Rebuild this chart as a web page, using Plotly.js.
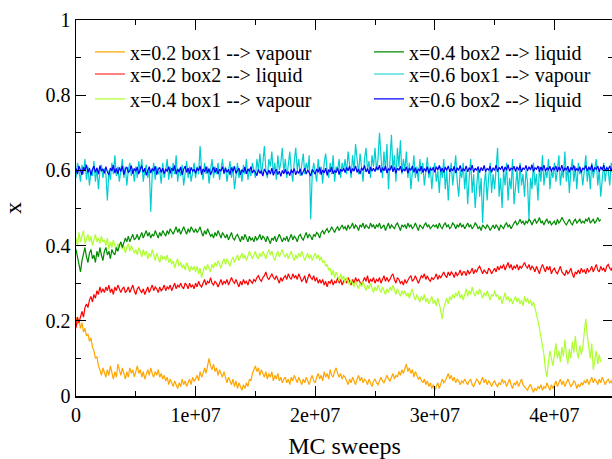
<!DOCTYPE html>
<html>
<head>
<meta charset="utf-8">
<script src="https://cdn.plot.ly/plotly-3.0.1.min.js"></script>
<style>
html, body { margin: 0; padding: 0; overflow: hidden; background: #fff; }
#chart { width: 614px; height: 459px; }
</style>
</head>
<body>
<div id="chart"></div>
<script>
// MC sweeps between stored samples
const sweepStep = 1.25e5;

const seriesNames = [
  "x=0.2 box1 --> vapour",
  "x=0.2 box2 --> liquid",
  "x=0.4 box1 --> vapour",
  "x=0.4 box2 --> liquid",
  "x=0.6 box1 --> vapour",
  "x=0.6 box2 --> liquid"
];

const x02box1 = [
  0.21,0.19,0.2,0.18,0.195,0.17,0.18,0.16,0.165,0.145,0.155,0.13,0.12,0.10,0.105,0.08,0.07,0.055,0.075,0.06,
  0.05,0.07,0.055,0.08,0.06,0.045,0.065,0.05,0.085,0.07,0.055,0.075,0.06,0.045,0.065,0.05,0.075,0.06,0.07,0.05,
  0.065,0.08,0.06,0.07,0.05,0.065,0.045,0.06,0.07,0.055,0.075,0.06,0.05,0.065,0.055,0.07,0.05,0.06,0.045,0.055,
  0.04,0.05,0.03,0.045,0.035,0.025,0.04,0.03,0.02,0.035,0.025,0.045,0.03,0.04,0.025,0.035,0.045,0.03,0.05,0.04,
  0.045,0.055,0.04,0.065,0.05,0.06,0.075,0.06,0.085,0.1,0.08,0.07,0.085,0.065,0.075,0.055,0.07,0.06,0.05,0.065,
  0.045,0.035,0.05,0.04,0.03,0.045,0.025,0.04,0.02,0.035,0.025,0.015,0.03,0.02,0.035,0.025,0.045,0.04,0.06,0.07,
  0.08,0.065,0.075,0.055,0.07,0.06,0.05,0.065,0.045,0.06,0.05,0.065,0.04,0.055,0.045,0.06,0.04,0.05,0.035,0.045,
  0.05,0.035,0.045,0.03,0.05,0.04,0.055,0.045,0.035,0.05,0.04,0.03,0.045,0.035,0.05,0.04,0.03,0.045,0.055,0.04,
  0.035,0.05,0.06,0.045,0.055,0.04,0.065,0.05,0.06,0.045,0.07,0.055,0.05,0.065,0.075,0.06,0.05,0.06,0.045,0.055,
  0.05,0.04,0.03,0.045,0.035,0.05,0.04,0.03,0.045,0.055,0.04,0.05,0.035,0.045,0.04,0.03,0.045,0.035,0.025,0.04,
  0.045,0.035,0.03,0.04,0.05,0.04,0.035,0.045,0.055,0.045,0.04,0.05,0.06,0.045,0.055,0.05,0.065,0.055,0.07,0.06,
  0.075,0.085,0.065,0.075,0.06,0.07,0.05,0.065,0.055,0.045,0.05,0.04,0.035,0.045,0.03,0.04,0.025,0.035,0.02,0.03,
  0.015,0.025,0.035,0.02,0.03,0.045,0.035,0.04,0.05,0.06,0.045,0.055,0.04,0.05,0.035,0.045,0.04,0.03,0.04,0.035,
  0.045,0.035,0.03,0.04,0.045,0.03,0.025,0.035,0.045,0.04,0.03,0.04,0.05,0.035,0.045,0.03,0.04,0.035,0.025,0.035,
  0.04,0.03,0.025,0.035,0.03,0.045,0.035,0.04,0.025,0.035,0.045,0.03,0.02,0.035,0.03,0.04,0.025,0.035,0.045,0.03,
  0.025,0.02,0.015,0.025,0.03,0.02,0.01,0.02,0.015,0.025,0.02,0.03,0.015,0.025,0.02,0.035,0.025,0.015,0.03,0.02,
  0.03,0.04,0.025,0.035,0.045,0.03,0.04,0.025,0.035,0.045,0.035,0.025,0.03,0.04,0.035,0.02,0.03,0.025,0.035,0.03,
  0.04,0.035,0.045,0.03,0.04,0.05,0.035,0.045,0.04,0.03,0.045,0.035,0.05,0.04,0.03,0.04,0.045,0.035,0.04,0.03
];

const x02box2 = [
  0.18,0.21,0.195,0.215,0.225,0.21,0.235,0.245,0.235,0.255,0.265,0.25,0.27,0.26,0.28,0.27,0.29,0.275,0.285,0.275,
  0.29,0.28,0.295,0.275,0.285,0.27,0.29,0.28,0.295,0.285,0.275,0.285,0.29,0.275,0.28,0.29,0.275,0.285,0.295,0.28,
  0.27,0.285,0.29,0.28,0.275,0.285,0.27,0.28,0.29,0.275,0.285,0.295,0.28,0.29,0.285,0.275,0.29,0.28,0.285,0.295,
  0.28,0.29,0.285,0.295,0.28,0.29,0.3,0.285,0.295,0.29,0.3,0.29,0.285,0.3,0.295,0.285,0.3,0.29,0.295,0.285,
  0.3,0.29,0.305,0.295,0.29,0.3,0.31,0.295,0.305,0.3,0.315,0.3,0.295,0.305,0.3,0.29,0.3,0.31,0.295,0.305,
  0.3,0.31,0.295,0.305,0.315,0.305,0.3,0.31,0.3,0.29,0.305,0.295,0.31,0.3,0.305,0.295,0.31,0.305,0.3,0.31,
  0.305,0.315,0.32,0.31,0.305,0.315,0.32,0.33,0.315,0.31,0.32,0.325,0.315,0.31,0.32,0.31,0.3,0.315,0.305,0.315,
  0.32,0.31,0.325,0.315,0.31,0.325,0.315,0.32,0.31,0.325,0.315,0.305,0.31,0.32,0.3,0.31,0.325,0.315,0.31,0.32,
  0.305,0.315,0.3,0.31,0.3,0.31,0.295,0.305,0.29,0.305,0.3,0.31,0.295,0.305,0.3,0.315,0.3,0.31,0.295,0.305,
  0.31,0.3,0.315,0.305,0.295,0.31,0.3,0.315,0.305,0.31,0.3,0.295,0.305,0.315,0.305,0.32,0.3,0.31,0.305,0.315,
  0.3,0.31,0.305,0.315,0.3,0.31,0.32,0.305,0.315,0.305,0.31,0.32,0.325,0.31,0.3,0.315,0.31,0.3,0.305,0.295,
  0.31,0.3,0.31,0.315,0.32,0.305,0.31,0.32,0.31,0.3,0.31,0.32,0.315,0.325,0.31,0.32,0.31,0.305,0.315,0.31,
  0.315,0.325,0.31,0.32,0.315,0.325,0.33,0.32,0.315,0.33,0.32,0.33,0.325,0.315,0.33,0.32,0.325,0.335,0.32,0.33,
  0.33,0.32,0.335,0.325,0.33,0.34,0.325,0.335,0.33,0.34,0.345,0.335,0.325,0.335,0.33,0.325,0.34,0.335,0.325,0.335,
  0.34,0.33,0.345,0.335,0.345,0.34,0.35,0.335,0.345,0.355,0.34,0.35,0.335,0.345,0.34,0.35,0.335,0.345,0.34,0.35,
  0.355,0.345,0.34,0.35,0.335,0.345,0.34,0.33,0.345,0.335,0.325,0.34,0.35,0.34,0.33,0.345,0.335,0.345,0.325,0.335,
  0.34,0.33,0.325,0.335,0.345,0.33,0.325,0.32,0.335,0.325,0.33,0.34,0.325,0.315,0.33,0.325,0.335,0.325,0.34,0.33,
  0.335,0.325,0.34,0.33,0.335,0.345,0.33,0.34,0.35,0.335,0.33,0.345,0.335,0.34,0.33,0.345,0.35,0.34,0.335,0.345
];

const x04box1 = [
  0.42,0.4,0.435,0.41,0.425,0.44,0.405,0.42,0.43,0.41,0.425,0.4,0.415,0.43,0.41,0.42,0.405,0.425,0.41,0.415,
  0.4,0.42,0.39,0.41,0.395,0.415,0.4,0.385,0.405,0.395,0.41,0.39,0.4,0.38,0.395,0.405,0.385,0.4,0.39,0.38,
  0.39,0.375,0.395,0.38,0.37,0.39,0.375,0.385,0.365,0.38,0.37,0.39,0.375,0.36,0.38,0.37,0.355,0.375,0.365,0.37,
  0.36,0.375,0.355,0.365,0.35,0.36,0.34,0.355,0.365,0.345,0.355,0.34,0.35,0.335,0.355,0.345,0.33,0.345,0.335,0.345,
  0.33,0.345,0.325,0.34,0.315,0.33,0.345,0.335,0.35,0.34,0.33,0.35,0.34,0.355,0.345,0.36,0.35,0.34,0.355,0.365,
  0.35,0.365,0.355,0.345,0.36,0.37,0.355,0.365,0.375,0.36,0.37,0.38,0.365,0.375,0.36,0.37,0.385,0.375,0.365,0.375,
  0.385,0.37,0.365,0.38,0.37,0.385,0.375,0.365,0.38,0.39,0.375,0.385,0.37,0.36,0.375,0.385,0.37,0.38,0.39,0.375,
  0.37,0.38,0.365,0.375,0.385,0.37,0.36,0.375,0.365,0.38,0.37,0.385,0.375,0.36,0.37,0.38,0.365,0.375,0.36,0.37,
  0.38,0.365,0.375,0.36,0.37,0.355,0.36,0.345,0.35,0.335,0.34,0.32,0.335,0.315,0.33,0.32,0.305,0.325,0.31,0.32,
  0.3,0.315,0.305,0.295,0.31,0.3,0.29,0.305,0.295,0.285,0.3,0.29,0.305,0.29,0.28,0.295,0.285,0.3,0.285,0.275,
  0.29,0.28,0.295,0.285,0.275,0.29,0.28,0.27,0.285,0.275,0.29,0.28,0.295,0.28,0.27,0.285,0.275,0.265,0.28,0.27,
  0.28,0.265,0.275,0.26,0.275,0.285,0.265,0.255,0.27,0.26,0.25,0.265,0.255,0.27,0.25,0.26,0.245,0.255,0.265,0.245,
  0.255,0.24,0.26,0.245,0.225,0.205,0.235,0.25,0.26,0.245,0.265,0.255,0.27,0.26,0.275,0.265,0.28,0.26,0.27,0.255,
  0.275,0.285,0.265,0.28,0.27,0.29,0.275,0.265,0.28,0.27,0.285,0.275,0.26,0.275,0.265,0.28,0.27,0.255,0.27,0.265,
  0.28,0.265,0.27,0.255,0.265,0.245,0.26,0.275,0.255,0.265,0.25,0.26,0.245,0.255,0.265,0.25,0.26,0.245,0.255,0.24,
  0.265,0.25,0.26,0.245,0.255,0.24,0.25,0.235,0.22,0.2,0.18,0.16,0.14,0.11,0.07,0.05,0.09,0.12,0.1,0.08,
  0.11,0.14,0.1,0.12,0.09,0.13,0.105,0.15,0.11,0.085,0.125,0.1,0.145,0.115,0.16,0.12,0.1,0.135,0.11,0.13,
  0.17,0.205,0.16,0.13,0.1,0.14,0.07,0.095,0.12,0.085,0.11,0.09
];

const x04box2 = [
  0.39,0.37,0.35,0.33,0.36,0.38,0.395,0.37,0.355,0.38,0.39,0.365,0.375,0.355,0.385,0.37,0.395,0.375,0.36,0.385,
  0.395,0.375,0.385,0.365,0.39,0.38,0.375,0.395,0.385,0.4,0.41,0.395,0.405,0.42,0.41,0.425,0.41,0.42,0.43,0.415,
  0.42,0.43,0.415,0.425,0.435,0.42,0.43,0.44,0.425,0.435,0.42,0.43,0.425,0.44,0.43,0.42,0.435,0.425,0.44,0.43,
  0.425,0.44,0.43,0.445,0.435,0.43,0.44,0.45,0.435,0.445,0.43,0.44,0.45,0.44,0.43,0.445,0.435,0.45,0.44,0.435,
  0.445,0.435,0.44,0.45,0.435,0.425,0.44,0.43,0.445,0.435,0.425,0.43,0.42,0.435,0.425,0.44,0.43,0.42,0.435,0.425,
  0.42,0.43,0.415,0.425,0.435,0.42,0.415,0.425,0.43,0.42,0.41,0.425,0.415,0.43,0.42,0.41,0.425,0.415,0.42,0.41,
  0.425,0.415,0.42,0.43,0.415,0.425,0.42,0.41,0.425,0.415,0.405,0.42,0.415,0.425,0.41,0.42,0.43,0.42,0.41,0.42,
  0.415,0.425,0.41,0.42,0.43,0.415,0.425,0.42,0.41,0.425,0.43,0.42,0.415,0.425,0.435,0.42,0.43,0.425,0.415,0.43,
  0.425,0.435,0.43,0.42,0.435,0.44,0.43,0.44,0.445,0.435,0.44,0.45,0.44,0.435,0.445,0.45,0.44,0.45,0.455,0.445,
  0.45,0.44,0.455,0.445,0.45,0.46,0.445,0.455,0.45,0.44,0.455,0.45,0.46,0.445,0.455,0.45,0.445,0.46,0.45,0.455,
  0.445,0.455,0.45,0.46,0.445,0.45,0.455,0.44,0.45,0.46,0.445,0.455,0.45,0.445,0.455,0.46,0.45,0.44,0.455,0.45,
  0.455,0.445,0.46,0.45,0.455,0.445,0.45,0.46,0.45,0.44,0.455,0.45,0.445,0.455,0.46,0.45,0.455,0.445,0.45,0.455,
  0.45,0.455,0.445,0.46,0.45,0.445,0.455,0.46,0.45,0.455,0.445,0.45,0.46,0.455,0.445,0.455,0.45,0.46,0.45,0.455,
  0.445,0.455,0.46,0.45,0.455,0.445,0.45,0.46,0.455,0.445,0.45,0.44,0.455,0.45,0.445,0.455,0.45,0.44,0.45,0.455,
  0.445,0.455,0.45,0.44,0.455,0.45,0.445,0.455,0.46,0.45,0.455,0.445,0.455,0.46,0.465,0.455,0.46,0.47,0.46,0.465,
  0.455,0.465,0.46,0.47,0.465,0.455,0.465,0.47,0.46,0.465,0.475,0.46,0.465,0.455,0.465,0.47,0.46,0.465,0.455,0.46,
  0.465,0.455,0.47,0.46,0.465,0.475,0.465,0.46,0.455,0.465,0.47,0.46,0.455,0.465,0.47,0.46,0.465,0.47,0.46,0.465,
  0.46,0.47,0.465,0.475,0.46,0.465,0.47,0.46,0.465,0.475,0.465,0.47
];

const x06box1 = [
  0.58,0.62,0.6,0.57,0.615,0.59,0.63,0.575,0.61,0.56,0.6,0.585,0.625,0.57,0.605,0.55,0.6,0.615,0.58,0.605,
  0.59,0.52,0.6,0.575,0.62,0.59,0.64,0.585,0.61,0.57,0.6,0.63,0.58,0.61,0.56,0.6,0.62,0.585,0.605,0.57,
  0.61,0.58,0.625,0.595,0.63,0.57,0.6,0.615,0.58,0.605,0.49,0.59,0.62,0.575,0.61,0.59,0.6,0.565,0.62,0.58,
  0.6,0.63,0.575,0.61,0.58,0.62,0.59,0.64,0.57,0.605,0.585,0.615,0.56,0.6,0.625,0.58,0.61,0.57,0.6,0.62,
  0.58,0.61,0.59,0.665,0.6,0.575,0.62,0.59,0.61,0.565,0.6,0.63,0.58,0.61,0.59,0.62,0.575,0.6,0.63,0.59,
  0.61,0.57,0.6,0.625,0.58,0.61,0.55,0.595,0.62,0.58,0.6,0.57,0.615,0.59,0.63,0.575,0.605,0.585,0.62,0.6,
  0.58,0.63,0.6,0.645,0.59,0.62,0.665,0.6,0.58,0.63,0.61,0.65,0.59,0.62,0.575,0.64,0.6,0.62,0.66,0.595,
  0.63,0.58,0.615,0.65,0.6,0.57,0.625,0.66,0.6,0.63,0.585,0.61,0.645,0.59,0.62,0.6,0.64,0.47,0.59,0.62,
  0.6,0.57,0.63,0.59,0.61,0.565,0.62,0.645,0.6,0.58,0.62,0.59,0.64,0.57,0.61,0.6,0.63,0.58,0.62,0.6,
  0.63,0.59,0.65,0.61,0.58,0.64,0.6,0.67,0.62,0.59,0.645,0.6,0.57,0.63,0.66,0.6,0.625,0.58,0.64,0.61,
  0.66,0.6,0.63,0.7,0.62,0.58,0.65,0.6,0.67,0.55,0.625,0.695,0.6,0.64,0.57,0.66,0.61,0.68,0.59,0.63,
  0.6,0.65,0.58,0.62,0.55,0.6,0.64,0.58,0.61,0.57,0.63,0.59,0.62,0.56,0.6,0.635,0.58,0.61,0.55,0.6,
  0.62,0.57,0.6,0.54,0.61,0.58,0.63,0.55,0.6,0.52,0.59,0.62,0.56,0.6,0.64,0.57,0.53,0.6,0.58,0.62,
  0.55,0.6,0.51,0.58,0.63,0.54,0.59,0.5,0.57,0.61,0.53,0.58,0.46,0.56,0.6,0.52,0.58,0.62,0.54,0.59,
  0.55,0.6,0.66,0.53,0.58,0.5,0.6,0.56,0.62,0.52,0.58,0.55,0.63,0.51,0.57,0.6,0.54,0.62,0.56,0.59,
  0.53,0.6,0.57,0.47,0.58,0.55,0.62,0.56,0.59,0.52,0.61,0.57,0.64,0.56,0.6,0.58,0.63,0.55,0.6,0.58,
  0.62,0.57,0.6,0.64,0.56,0.6,0.58,0.65,0.57,0.61,0.54,0.6,0.63,0.57,0.61,0.55,0.62,0.59,0.6,0.56,
  0.6,0.64,0.57,0.61,0.55,0.62,0.58,0.6,0.63,0.56,0.6,0.53,0.59,0.62,0.57,0.61,0.6,0.56,0.62,0.59
];

const x06box2 = [
  0.605,0.59,0.612,0.597,0.588,0.609,0.6,0.615,0.594,0.606,0.587,0.603,0.611,0.595,0.607,0.59,0.613,0.598,0.604,0.592,
  0.61,0.596,0.588,0.606,0.599,0.614,0.593,0.605,0.59,0.608,0.597,0.612,0.589,0.603,0.609,0.594,0.6,0.613,0.591,0.605,
  0.598,0.609,0.59,0.604,0.612,0.595,0.606,0.587,0.601,0.61,0.593,0.605,0.598,0.611,0.589,0.603,0.608,0.594,0.606,0.591,
  0.604,0.597,0.61,0.592,0.606,0.599,0.613,0.59,0.604,0.596,0.609,0.588,0.603,0.611,0.595,0.606,0.591,0.608,0.598,0.603,
  0.592,0.607,0.599,0.612,0.589,0.604,0.596,0.61,0.593,0.605,0.588,0.602,0.609,0.594,0.606,0.59,0.603,0.598,0.61,0.592,
  0.606,0.595,0.603,0.589,0.608,0.597,0.611,0.592,0.6,0.606,0.588,0.602,0.595,0.609,0.591,0.604,0.597,0.61,0.593,0.601,
  0.595,0.586,0.603,0.592,0.599,0.585,0.604,0.594,0.588,0.601,0.59,0.606,0.587,0.597,0.603,0.589,0.598,0.584,0.6,0.591,
  0.603,0.59,0.597,0.586,0.602,0.593,0.605,0.588,0.599,0.592,0.604,0.587,0.598,0.606,0.59,0.601,0.594,0.585,0.603,0.596,
  0.59,0.604,0.595,0.608,0.589,0.601,0.593,0.606,0.587,0.602,0.596,0.609,0.591,0.6,0.594,0.607,0.589,0.603,0.597,0.606,
  0.594,0.608,0.599,0.611,0.592,0.605,0.598,0.612,0.595,0.604,0.59,0.607,0.6,0.613,0.596,0.605,0.591,0.609,0.598,0.606,
  0.597,0.61,0.601,0.614,0.594,0.607,0.599,0.612,0.593,0.605,0.6,0.613,0.596,0.608,0.592,0.606,0.601,0.611,0.595,0.604,
  0.598,0.609,0.593,0.606,0.6,0.612,0.595,0.607,0.592,0.604,0.599,0.611,0.594,0.605,0.597,0.61,0.592,0.606,0.6,0.608,
  0.595,0.61,0.601,0.613,0.597,0.606,0.594,0.609,0.6,0.612,0.596,0.605,0.599,0.611,0.593,0.607,0.6,0.613,0.597,0.604,
  0.599,0.612,0.596,0.607,0.601,0.614,0.595,0.606,0.6,0.61,0.594,0.608,0.599,0.613,0.597,0.605,0.601,0.611,0.595,0.607,
  0.6,0.614,0.597,0.608,0.602,0.612,0.596,0.609,0.601,0.615,0.598,0.606,0.603,0.611,0.597,0.61,0.6,0.613,0.596,0.607,
  0.602,0.613,0.598,0.61,0.601,0.615,0.597,0.607,0.603,0.612,0.596,0.609,0.6,0.614,0.598,0.606,0.602,0.611,0.597,0.608,
  0.601,0.612,0.596,0.609,0.6,0.614,0.597,0.606,0.602,0.611,0.595,0.608,0.601,0.613,0.598,0.605,0.6,0.61,0.594,0.607,
  0.602,0.613,0.598,0.609,0.601,0.615,0.597,0.608,0.603,0.612,0.596,0.61,0.601,0.614,0.599,0.607,0.602,0.612,0.598,0.609
];

const seriesColors = ["#ffa500", "#ff0000", "#adff2f", "#008b00", "#00ced1", "#0000ff"];

const xTickVals = [0, 1e7, 2e7, 3e7, 4e7];
const xTickText = ["0", "1e+07", "2e+07", "3e+07", "4e+07"];
const yTickVals = [0, 0.2, 0.4, 0.6, 0.8, 1];
const yTickText = ["0", "0.2", "0.4", "0.6", "0.8", "1"];

const allSeries = [x02box1, x02box2, x04box1, x04box2, x06box1, x06box2];
const legendIds = ["legend", "legend2", "legend3", "legend4", "legend5", "legend6"];

const traces = allSeries.map((vals, k) => ({
  type: "scatter",
  mode: "lines",
  name: seriesNames[k],
  x: vals.map((_, i) => i * sweepStep),
  y: vals,
  line: { color: seriesColors[k], width: 1.2 },
  legend: legendIds[k]
}));

const serif = '"Liberation Serif", "Times New Roman", serif';

// legend placement (paper coords): two columns of three rows
const legendX = [0.026, 0.026, 0.026, 0.5456, 0.5456, 0.5456];
const legendY = [0.9150, 0.8564, 0.7900, 0.9150, 0.8564, 0.7900];

const layout = {
  width: 614,
  height: 459,
  margin: { l: 76, r: 1, t: 20, b: 63 },
  paper_bgcolor: "#fff",
  plot_bgcolor: "#fff",
  font: { family: serif, size: 20, color: "#000" },
  showlegend: true,
  xaxis: {
    range: [0, 4.49e7],
    showgrid: false,
    zeroline: false,
    showline: true,
    linecolor: "#000",
    linewidth: 1.5,
    mirror: "allticks",
    ticks: "inside",
    ticklen: 10,
    tickwidth: 1,
    tickcolor: "#000",
    tickmode: "array",
    tickvals: xTickVals,
    ticktext: xTickText,
    tickfont: { family: serif, size: 20, color: "#000" },
    minor: { ticks: "inside", ticklen: 5, tickwidth: 1, tickcolor: "#000", dtick: 5e6, tick0: 0, showgrid: false },
    automargin: true,
    title: { text: "MC sweeps", font: { family: serif, size: 24, color: "#000" }, standoff: 15 }
  },
  yaxis: {
    range: [0, 1],
    showgrid: false,
    zeroline: false,
    showline: true,
    linecolor: "#000",
    linewidth: 1.5,
    mirror: "allticks",
    ticks: "inside",
    ticklen: 10,
    tickwidth: 1,
    tickcolor: "#000",
    tickmode: "array",
    tickvals: yTickVals,
    ticktext: yTickText,
    tickfont: { family: serif, size: 20, color: "#000" },
    minor: { ticks: "inside", ticklen: 5, tickwidth: 1, tickcolor: "#000", dtick: 0.1, tick0: 0, showgrid: false },
    automargin: false,
    title: { text: "x", font: { family: serif, size: 24, color: "#000" } }
  }
};

legendIds.forEach((id, k) => {
  layout[id] = {
    bgcolor: "rgba(0,0,0,0)",
    borderwidth: 0,
    font: { family: serif, size: 20, color: "#000" },
    x: legendX[k],
    y: legendY[k],
    xanchor: "left",
    yanchor: "middle",
    itemwidth: 30
  };
});

Plotly.newPlot("chart", traces, layout, { displayModeBar: false, staticPlot: true });
</script>
</body>
</html>
